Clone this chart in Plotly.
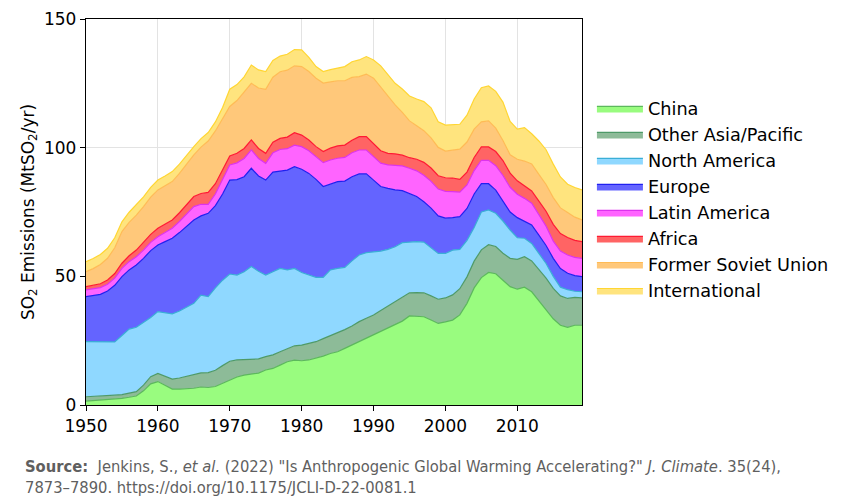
import plotly.graph_objects as go

# Annual SO2 emissions by region (MtSO2/yr)
years = list(range(1950, 2020))

china = [
    1.5, 1.7, 1.9, 2.1, 2.3, 2.6, 3.0, 3.5, 5.5, 8.2,
    9.1, 7.6, 6.2, 6.2, 6.3, 6.5, 7.0, 6.8, 7.2, 8.5,
    9.9, 10.9, 11.6, 12.0, 12.4, 13.6, 14.2, 15.5, 16.8, 17.4,
    17.2, 17.5, 18.1, 19.0, 20.0, 20.7, 22.0, 23.3, 24.8, 26.0,
    27.2, 28.5, 29.8, 31.1, 32.6, 34.6, 34.5, 34.3, 33.0, 31.7,
    32.3, 33.0, 35.0, 39.5, 45.5, 49.5, 51.5, 51.0, 48.5, 46.0,
    45.0, 45.8, 44.0, 40.5, 37.0, 33.5, 31.0, 30.2, 31.0, 31.0,
]
other_asia = [
    1.7, 1.6, 1.5, 1.5, 1.5, 1.4, 1.5, 1.7, 2.2, 2.8,
    3.2, 3.6, 3.9, 4.3, 4.8, 5.2, 5.5, 5.8, 6.3, 6.8,
    7.1, 6.6, 6.0, 5.7, 5.5, 5.2, 5.3, 5.2, 5.2, 5.6,
    6.1, 6.3, 6.5, 6.8, 7.0, 7.2, 7.3, 7.4, 7.6, 7.7,
    7.8, 8.2, 8.6, 9.0, 9.0, 9.0, 9.2, 9.3, 9.4, 9.4,
    9.3, 9.8, 10.2, 10.3, 10.4, 10.8, 10.8, 10.6, 10.5, 11.0,
    11.6, 11.8, 12.0, 12.2, 12.3, 11.8, 11.4, 11.2, 10.8, 10.6,
]
north_america = [
    21.4, 21.2, 21.2, 20.8, 20.7, 23.0, 25.0, 25.0, 24.3, 23.0,
    24.0, 24.6, 25.3, 26.0, 26.9, 27.8, 30.2, 29.5, 32.0, 33.2,
    33.9, 33.0, 34.2, 36.1, 34.1, 31.7, 32.3, 32.4, 30.5, 30.1,
    28.2, 26.7, 25.0, 23.8, 25.5, 25.2, 24.2, 25.3, 25.9, 25.5,
    24.6, 23.1, 22.1, 21.4, 21.5, 19.7, 19.8, 19.7, 18.6, 17.8,
    17.3, 17.4, 15.3, 14.2, 13.1, 14.7, 13.5, 12.9, 12.5, 11.0,
    8.4, 7.2, 6.8, 6.3, 5.7, 4.7, 3.4, 3.4, 2.4, 2.4,
]
europe = [
    17.5, 18.0, 18.4, 19.9, 22.0, 22.9, 23.0, 24.2, 25.0, 26.0,
    25.9, 27.7, 29.4, 30.5, 31.5, 32.4, 30.8, 32.4, 32.0, 33.5,
    36.5, 37.1, 36.9, 38.2, 37.0, 36.9, 38.7, 37.9, 38.8, 39.5,
    40.1, 39.5, 38.1, 35.3, 33.5, 33.7, 33.5, 32.7, 31.5, 30.6,
    27.8, 25.1, 23.7, 22.1, 20.2, 19.0, 17.5, 15.7, 15.5, 14.6,
    13.7, 12.6, 12.7, 12.4, 13.0, 11.0, 10.2, 9.0, 8.0, 7.0,
    7.8, 6.7, 7.2, 7.0, 7.0, 7.0, 7.2, 6.4, 6.1, 5.9,
]
latin_america = [
    2.6, 2.6, 2.6, 2.6, 2.8, 3.2, 3.2, 3.2, 3.2, 3.2,
    3.2, 3.5, 3.9, 4.3, 4.8, 5.2, 4.5, 3.5, 4.5, 5.5,
    5.9, 6.5, 7.1, 7.1, 6.8, 6.5, 7.5, 8.3, 8.3, 8.4,
    8.8, 8.8, 8.8, 9.3, 9.2, 9.1, 9.2, 9.3, 9.3, 9.3,
    9.1, 9.1, 9.1, 9.5, 9.6, 9.7, 10.0, 10.3, 10.4, 10.4,
    10.4, 10.1, 9.5, 9.1, 9.1, 9.1, 9.1, 9.5, 9.7, 9.6,
    9.1, 8.8, 8.4, 8.0, 7.5, 6.7, 6.8, 7.1, 7.1, 7.1,
]
africa = [
    1.3, 1.4, 1.5, 1.7, 1.8, 2.0, 2.3, 2.6, 2.9, 3.1,
    3.3, 3.2, 3.2, 3.4, 3.6, 3.9, 4.2, 4.6, 4.0, 3.6,
    3.5, 3.7, 3.9, 3.9, 3.9, 3.9, 4.1, 4.3, 4.5, 4.8,
    4.5, 4.2, 3.9, 4.3, 4.6, 4.8, 4.8, 4.9, 5.2, 5.2,
    5.2, 4.8, 4.5, 4.5, 4.2, 4.1, 4.5, 5.0, 5.2, 5.2,
    5.3, 5.3, 5.0, 5.0, 5.1, 5.2, 5.2, 5.5, 5.8, 5.5,
    5.2, 4.8, 4.8, 5.2, 5.8, 6.5, 6.8, 6.8, 6.6, 6.5,
]
former_soviet = [
    5.8, 6.5, 7.5, 8.4, 10.0, 12.3, 13.0, 13.6, 14.0, 14.5,
    14.9, 14.9, 14.9, 15.3, 15.8, 16.2, 18.0, 20.0, 20.5, 20.0,
    19.2, 20.5, 22.0, 22.0, 23.5, 24.9, 25.3, 25.9, 26.0, 26.0,
    26.6, 26.6, 26.6, 26.6, 25.8, 25.3, 25.0, 24.4, 23.3, 24.3,
    25.3, 24.6, 22.0, 19.0, 16.6, 14.3, 13.0, 12.3, 11.7, 11.0,
    10.4, 10.8, 11.7, 11.7, 11.0, 9.7, 10.1, 9.1, 7.8, 7.1,
    8.4, 9.7, 10.5, 10.4, 10.4, 10.4, 10.0, 9.7, 9.0, 8.4,
]
international = [
    3.9, 3.9, 3.9, 3.9, 3.9, 3.8, 3.9, 3.9, 3.8, 3.8,
    3.8, 3.9, 3.9, 3.6, 3.4, 3.2, 3.3, 3.3, 3.5, 4.5,
    6.7, 6.2, 5.8, 7.1, 7.0, 6.9, 6.5, 6.1, 6.2, 6.3,
    6.5, 5.5, 4.5, 4.5, 4.7, 4.9, 5.5, 6.1, 6.5, 6.8,
    7.1, 8.4, 8.4, 8.4, 9.1, 9.7, 10.4, 11.3, 11.7, 10.0,
    10.1, 10.0, 9.7, 10.4, 11.7, 13.3, 13.6, 14.3, 14.9, 13.0,
    11.7, 13.0, 11.7, 13.0, 13.5, 13.0, 12.0, 11.0, 11.5, 11.7,
]

regions = [
    "China", "Other Asia/Pacific", "North America", "Europe",
    "Latin America", "Africa", "Former Soviet Union", "International",
]
series = [
    china, other_asia, north_america, europe,
    latin_america, africa, former_soviet, international,
]

# (fill, edge line) per region
colors = [
    ("#99fc7f", "#5cb85c"),
    ("#8dbb98", "#4e9a68"),
    ("#8fd8ff", "#3aaed6"),
    ("#6464ff", "#2020f0"),
    ("#ff64ff", "#dd33ee"),
    ("#ff6464", "#ff1a33"),
    ("#ffc87a", "#ffbb55"),
    ("#ffe47e", "#ffd633"),
]

FONT = "DejaVu Sans"

# The page body keeps its default 8px margin, so the figure is 8px smaller
# than the window and the margins are trimmed to keep the same placement.
W, H = 842, 492
PLOT_L, PLOT_T, PLOT_R, PLOT_B = 78, 11, 574, 397
plot_w = PLOT_R - PLOT_L
plot_h = PLOT_B - PLOT_T

fig = go.Figure()
for name, vals, (fill, edge) in zip(regions, series, colors):
    fig.add_trace(go.Scatter(
        x=years,
        y=vals,
        name=name,
        mode="lines",
        stackgroup="one",
        line=dict(color=edge, width=1.2),
        fillcolor=fill,
        hoverinfo="x+y+name",
    ))

axis_common = dict(
    showline=True,
    linecolor="black",
    linewidth=1.3,
    mirror=True,
    ticks="outside",
    ticklen=5,
    tickcolor="black",
    showgrid=True,
    gridcolor="#e3e3e3",
    gridwidth=1,
    zeroline=False,
    automargin=False,
    tickfont=dict(family=FONT, size=17, color="black"),
)

fig.update_xaxes(range=[1950, 2019], dtick=10, tick0=1950, **axis_common)
fig.update_yaxes(
    range=[0, 150], dtick=50,
    title=dict(
        text="SO<sub>2</sub> Emissions (MtSO<sub>2</sub>/yr)",
        font=dict(family=FONT, size=17, color="black"),
        standoff=5,
    ),
    **axis_common,
)

source_line1 = (
    "<b>Source:</b>  Jenkins, S., <i>et al.</i> (2022) \"Is Anthropogenic "
    "Global Warming Accelerating?\" <i>J. Climate</i>. 35(24),"
)
source_line2 = "7873–7890. https://doi.org/10.1175/JCLI-D-22-0081.1"

for text, ypix in [(source_line1, 459), (source_line2, 480)]:
    fig.add_annotation(
        text=text,
        xref="paper", yref="paper",
        x=(15 - PLOT_L) / plot_w, y=(PLOT_B - ypix) / plot_h,
        xanchor="left", yanchor="middle",
        showarrow=False,
        font=dict(family="DejaVu Sans Condensed", size=16.4, color="#5f5f5f"),
    )

fig.update_layout(
    width=W,
    height=H,
    margin=dict(l=PLOT_L, r=W - PLOT_R, t=PLOT_T, b=H - PLOT_B, autoexpand=False),
    plot_bgcolor="white",
    paper_bgcolor="white",
    showlegend=True,
    legend=dict(
        x=1.02, xanchor="left",
        y=0.815, yanchor="top",
        traceorder="normal",
        font=dict(family=FONT, size=17.7, color="black"),
        itemwidth=46,
        bgcolor="rgba(0,0,0,0)",
    ),
    hovermode="x unified",
)

fig.write_html("out.html")
